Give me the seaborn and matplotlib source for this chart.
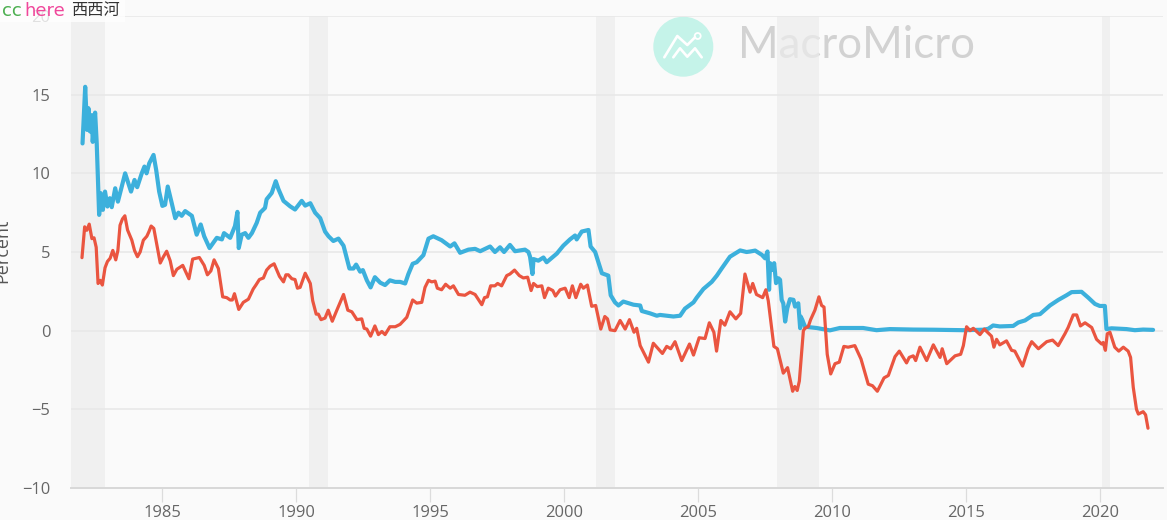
import matplotlib
matplotlib.use("Agg")
import matplotlib.pyplot as plt
import pandas as pd
import seaborn as sns
from matplotlib.patches import Circle, Rectangle
from matplotlib.lines import Line2D
from matplotlib.transforms import Affine2D

blue_years = [1982.03,1982.13,1982.2,1982.25,1982.31,1982.38,1982.41,1982.5,1982.56,1982.65,1982.71,1982.79,1982.87,1982.96,1983.05,1983.12,1983.25,1983.35,1983.62,1983.84,1983.97,1984.07,1984.24,1984.34,1984.42,1984.52,1984.68,1984.78,1984.89,1985.01,1985.11,1985.21,1985.36,1985.49,1985.61,1985.73,1985.86,1986.11,1986.29,1986.44,1986.57,1986.77,1987.04,1987.23,1987.31,1987.54,1987.72,1987.81,1987.86,1987.97,1988.1,1988.22,1988.35,1988.53,1988.66,1988.84,1988.9,1989.09,1989.24,1989.34,1989.53,1989.78,1989.96,1990.21,1990.34,1990.53,1990.71,1990.9,1991.08,1991.21,1991.39,1991.58,1991.77,1991.99,1992.14,1992.24,1992.39,1992.49,1992.64,1992.78,1992.94,1993.14,1993.32,1993.5,1993.7,1993.88,1994.07,1994.19,1994.35,1994.5,1994.75,1994.94,1995.12,1995.43,1995.75,1995.91,1996.12,1996.43,1996.68,1996.87,1997.24,1997.42,1997.61,1997.76,1997.98,1998.17,1998.54,1998.67,1998.73,1998.82,1998.86,1999.04,1999.23,1999.35,1999.73,1999.97,2000.22,2000.41,2000.47,2000.66,2000.91,2000.99,2001.16,2001.41,2001.65,2001.74,2001.9,2002.03,2002.21,2002.59,2002.84,2002.9,2003.21,2003.46,2003.58,2004.08,2004.33,2004.51,2004.83,2004.95,2005.2,2005.51,2005.7,2005.88,2006.19,2006.57,2006.81,2006.94,2007.13,2007.38,2007.5,2007.59,2007.65,2007.69,2007.79,2007.84,2007.91,2008.0,2008.06,2008.12,2008.18,2008.25,2008.33,2008.43,2008.56,2008.62,2008.74,2008.81,2008.83,2008.89,2008.99,2009.42,2009.92,2010.29,2011.16,2011.66,2012.16,2013.03,2013.78,2014.9,2015.64,2015.83,2016.01,2016.26,2016.76,2016.95,2017.2,2017.51,2017.76,2018.13,2018.44,2018.75,2018.94,2019.31,2019.56,2019.81,2019.99,2020.18,2020.24,2020.43,2020.99,2021.3,2021.61,2021.98]
blue_values = [11.9,15.5,12.76,14.14,12.66,13.7,12.0,13.86,11.9,7.36,8.74,7.68,8.84,7.89,8.42,7.85,9.05,8.2,10.0,8.84,9.58,9.12,10.0,10.43,10.0,10.64,11.17,10.2,8.84,7.93,8,9.16,8.1,7.15,7.5,7.3,7.6,7.3,6.1,6.75,6,5.25,5.9,5.8,6.2,5.9,6.65,7.55,5.25,6.1,6.2,5.9,6.2,6.85,7.5,7.8,8.35,8.75,9.5,9,8.25,7.9,7.7,8.25,7.95,8.1,7.5,7.15,6.3,6,5.7,5.85,5.4,3.95,3.95,4.2,3.75,3.85,3.2,2.75,3.4,3.05,2.9,3.2,3.1,3.1,3.0,3.6,4.25,4.35,4.8,5.85,6.0,5.75,5.35,5.55,4.95,5.15,5.2,5.05,5.35,5.0,5.3,5,5.45,5.05,5.15,5.0,4.7,3.6,4.55,4.45,4.65,4.35,4.9,5.4,5.8,6.05,5.8,6.3,6.4,5.35,5.0,3.65,3.5,2.25,1.8,1.6,1.85,1.65,1.6,1.25,1.1,0.95,1,0.9,0.95,1.4,1.8,2.1,2.65,3.1,3.5,3.95,4.7,5.1,5.0,5.03,5.09,4.82,4.6,5.03,2.6,4.29,3.86,4.29,3.02,3.33,3.23,1.96,1.74,0.58,1.43,2.0,1.96,1.53,1.74,0.16,0.9,0.69,0.25,0.17,0.02,0.17,0.17,0.03,0.1,0.07,0.06,0.03,0.06,0.12,0.33,0.27,0.3,0.52,0.65,1.0,1.05,1.6,1.95,2.25,2.45,2.47,2.1,1.7,1.57,1.57,0.1,0.15,0.1,0.03,0.07,0.05]

red_years = [1982.01,1982.11,1982.19,1982.28,1982.38,1982.46,1982.54,1982.61,1982.69,1982.77,1982.87,1982.96,1983.06,1983.16,1983.27,1983.35,1983.43,1983.52,1983.61,1983.71,1983.87,1983.97,1984.08,1984.18,1984.3,1984.43,1984.51,1984.59,1984.69,1984.8,1984.93,1985.05,1985.17,1985.3,1985.42,1985.55,1985.77,1986.0,1986.14,1986.39,1986.57,1986.69,1986.82,1986.94,1987.1,1987.26,1987.41,1987.54,1987.62,1987.7,1987.86,1988.03,1988.22,1988.4,1988.5,1988.63,1988.78,1988.9,1989.03,1989.18,1989.38,1989.53,1989.62,1989.71,1989.84,1989.96,1990.05,1990.15,1990.34,1990.53,1990.62,1990.75,1990.83,1990.93,1991.08,1991.2,1991.35,1991.52,1991.77,1991.93,1992.08,1992.27,1992.45,1992.54,1992.64,1992.78,1992.94,1993.07,1993.2,1993.32,1993.5,1993.7,1993.88,1994.13,1994.35,1994.5,1994.69,1994.81,1994.94,1995.06,1995.19,1995.27,1995.43,1995.58,1995.75,1995.87,1996.06,1996.3,1996.49,1996.68,1996.93,1997.03,1997.14,1997.26,1997.42,1997.52,1997.67,1997.86,1997.98,1998.15,1998.33,1998.48,1998.64,1998.77,1998.86,1999.0,1999.17,1999.27,1999.41,1999.58,1999.68,1999.85,2000.04,2000.19,2000.31,2000.44,2000.62,2000.72,2000.87,2001.03,2001.18,2001.37,2001.52,2001.62,2001.72,2001.9,2002.09,2002.28,2002.44,2002.61,2002.71,2002.84,2003.15,2003.33,2003.67,2003.83,2003.98,2004.14,2004.39,2004.68,2004.83,2005.04,2005.26,2005.42,2005.59,2005.69,2005.85,2006.0,2006.19,2006.41,2006.59,2006.75,2006.94,2007.04,2007.18,2007.41,2007.53,2007.62,2007.83,2007.96,2008.18,2008.34,2008.53,2008.61,2008.7,2008.78,2008.93,2008.99,2009.11,2009.2,2009.36,2009.51,2009.61,2009.7,2009.82,2009.95,2010.11,2010.27,2010.44,2010.6,2010.85,2011.08,2011.35,2011.51,2011.69,2011.94,2012.1,2012.35,2012.51,2012.78,2012.88,2013.03,2013.12,2013.28,2013.53,2013.78,2014.03,2014.11,2014.28,2014.59,2014.8,2014.9,2015.02,2015.15,2015.27,2015.52,2015.68,2015.95,2016.04,2016.14,2016.26,2016.51,2016.7,2016.82,2017.11,2017.32,2017.45,2017.7,2018.01,2018.23,2018.44,2018.69,2018.81,2019.0,2019.13,2019.27,2019.44,2019.69,2019.87,2020.06,2020.12,2020.2,2020.27,2020.37,2020.55,2020.7,2020.87,2021.05,2021.14,2021.24,2021.36,2021.43,2021.61,2021.7,2021.79]
red_values = [4.64,6.6,6.38,6.77,5.85,5.9,5.3,3.0,3.2,2.9,4.0,4.4,4.6,5.1,4.5,5.1,6.7,7.1,7.3,6.4,5.75,5.1,4.7,5.0,5.75,6.0,6.3,6.65,6.5,5.5,4.3,4.7,5.05,4.45,3.5,3.9,4.15,3.3,4.55,4.65,4.15,3.55,3.8,4.5,3.95,2.15,2.1,1.95,1.95,2.35,1.35,1.8,2.0,2.65,2.9,3.25,3.35,3.85,4.1,4.25,3.45,3.1,3.55,3.55,3.3,3.25,2.7,2.75,3.65,3.0,1.9,1.05,1.05,0.7,0.8,1.3,0.6,1.3,2.3,1.3,1.2,0.7,0.75,0.15,0.1,-0.35,0.3,-0.25,-0.05,-0.25,0.25,0.25,0.4,0.85,1.95,1.75,1.8,2.75,3.2,3.1,3.15,2.7,2.6,2.95,2.7,2.85,2.3,2.25,2.45,2.3,1.65,2.1,2.15,2.85,2.85,3.0,2.85,3.5,3.6,3.85,3.5,3.35,3.4,2.55,3.0,2.8,2.85,2.1,2.7,2.55,2.2,2.6,2.7,2.1,2.85,2.1,2.95,2.7,2.9,1.55,1.6,0.1,0.9,0.75,0.05,0,0.65,0.1,0.7,-0.1,0.15,-0.95,-2.0,-0.8,-1.45,-1,-1.15,-0.7,-1.9,-0.85,-1.55,-0.45,-0.5,0.5,-0.1,-1.3,0.65,0.35,1.2,0.75,1.1,3.6,2.45,3.0,2.3,2.1,2.6,1.9,-1.0,-1.15,-2.7,-2.35,-3.85,-3.55,-3.8,-3.2,0,0.15,0.25,0.7,1.3,2.15,1.6,1.5,-1.5,-2.75,-2.1,-2.0,-1.0,-1.05,-0.95,-1.8,-3.4,-3.5,-3.85,-3.0,-2.85,-1.65,-1.3,-2.05,-1.7,-1.6,-1.9,-1.05,-1.9,-0.9,-1.7,-1.15,-2.1,-1.6,-1.5,-0.95,0.25,0,0.15,-0.25,0.1,-0.35,-1.05,-0.55,-0.9,-0.65,-1.25,-1.3,-2.25,-1.15,-0.7,-1.15,-0.7,-0.6,-0.95,-0.2,0.2,1.0,1.0,0.3,0.5,0.2,-0.55,-0.85,-0.75,-1.25,-0.2,-0.1,-1.05,-1.3,-1.05,-1.3,-1.7,-3.6,-5.0,-5.3,-5.15,-5.35,-6.2]

recessions = [(1981.6, 1982.87), (1990.49, 1991.2), (2001.18, 2001.9), (2007.94, 2009.5), (2020.07, 2020.37)]
x_ticks = [1985, 1990, 1995, 2000, 2005, 2010, 2015, 2020]
y_ticks = [-10, -5, 0, 5, 10, 15, 20]

sns.set_theme(style="white")
plt.rcParams["font.family"] = ["Open Sans", "Noto Sans CJK SC", "DejaVu Sans"]

BG = "#fafafa"
W, H = 1167, 520
fig = plt.figure(figsize=(W / 100, H / 100), dpi=100, facecolor=BG)
ax = fig.add_axes([71 / W, (H - 488) / H, (1163 - 71) / W, (488 - 16) / H], facecolor="none")
ax.set_zorder(1)
px = Affine2D().scale(1, -1).translate(0, H)

for start, end in recessions:
    ax.axvspan(start, end, color="#ececec", alpha=0.7, lw=0, zorder=0)

# Watermark sits below the axes, so the recession band veils it
fig.add_artist(Circle((683.3, 46.7), 30, transform=px, facecolor="#c5f3e9", edgecolor="none", zorder=0.5))
for xs, ys in [([664.3, 677.3, 687.3, 695], [57.3, 36, 45, 37.3]),
               ([673.3, 680, 687.3, 695, 701.7], [57.3, 48.3, 56.7, 48.3, 57.3])]:
    fig.add_artist(Line2D(xs, ys, transform=px, color="white", lw=1.9, solid_capstyle="round", zorder=0.6))
fig.add_artist(Circle((697.7, 36), 3, transform=px, facecolor="none", edgecolor="white", lw=1.3, zorder=0.6))
fig.text(738, 46, "MacroMicro", transform=px, fontsize=31.5, family="Lato",
         color="#d2d2d2", va="center", ha="left", zorder=0.5)

blue = pd.DataFrame({"year": blue_years, "rate": blue_values})
red = pd.DataFrame({"year": red_years, "rate": red_values})
sns.lineplot(data=blue, x="year", y="rate", ax=ax, color="#3cb0dc", lw=3.0, estimator=None, sort=False, zorder=3)
sns.lineplot(data=red, x="year", y="rate", ax=ax, color="#ea5540", lw=2.3, estimator=None, sort=False, zorder=4)

ax.set_xlim(1981.6, 2022.35)
ax.set_ylim(-10, 20)
ax.set_xticks(x_ticks)
ax.set_yticks(y_ticks)
ax.set_xlabel("")
ax.set_ylabel("")
ax.grid(axis="y", color="#e7e7e7", lw=1.1, zorder=1)
ax.set_axisbelow(True)
for s in ["top", "left", "right"]:
    ax.spines[s].set_visible(False)
ax.spines["bottom"].set_color("#d8d8d8")
ax.spines["bottom"].set_linewidth(1.4)
ax.tick_params(axis="x", length=10, width=0.9, color="#dcdcdc", labelsize=11.9, labelcolor="#666666", pad=2, bottom=True)
ax.tick_params(axis="y", length=0, labelsize=11.9, labelcolor="#666666", pad=15)

fig.text(7, 251, "Percent", transform=px, rotation=90, rotation_mode="anchor", fontsize=13,
         color="#555555", ha="center", va="baseline")

# Top-left overlay: a translucent white box that veils the "20" label
fig.add_artist(Rectangle((0, 0), 125, 21.7, transform=px, facecolor="white", edgecolor="none", alpha=0.8, zorder=5))
fig.text(2, 10.5, "cc", transform=px, fontsize=13, family="DejaVu Sans", color="#4caf50", va="center", zorder=6)
fig.text(24.5, 10.5, "here", transform=px, fontsize=13, family="DejaVu Sans", color="#f0479b", va="center", zorder=6)
fig.text(71, 10.5, "西西河", transform=px, fontsize=11.7, family="Noto Sans CJK SC", color="#333333", va="center", zorder=6)

fig.savefig("out.png", dpi=100, facecolor=BG)
